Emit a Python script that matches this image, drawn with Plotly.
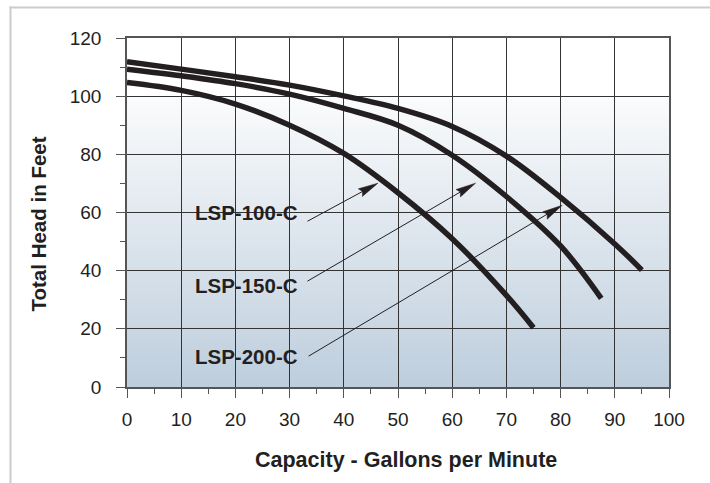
import numpy as np
import plotly.graph_objects as go

# ---- data ----
gpm_100 = [0, 10, 20, 30, 40, 50, 60, 70, 75]
head_100 = [104.7, 102.0, 97.3, 90.0, 80.3, 66.8, 51.0, 31.5, 20.4]

gpm_150 = [0, 10, 20, 30, 40, 50, 60, 70, 80, 87.5]
head_150 = [109.3, 107.0, 104.3, 100.7, 95.8, 90.0, 79.7, 65.5, 48.5, 30.5]

gpm_200 = [0, 10, 20, 30, 40, 50, 60, 70, 80, 90, 95]
head_200 = [111.8, 109.3, 106.7, 103.8, 100.1, 95.8, 89.6, 79.4, 65.2, 49.2, 40.2]

labels = ["LSP-100-C", "LSP-150-C", "LSP-200-C"]
label_x = [12.2, 12.2, 12.2]
label_y = [60.1, 35.0, 10.6]
arrow_start_x = [33.3, 33.3, 33.5]
arrow_start_y = [57.0, 36.4, 10.6]
arrow_tip_x = [46.3, 64.3, 80.3]
arrow_tip_y = [70.1, 70.1, 62.5]

x_ticks = list(range(0, 101, 10))
y_ticks = list(range(0, 121, 20))

# ---- layout geometry ----
W, H = 710, 483
ML, MR, MT, MB = 127, 41, 38, 96
PW, PH = W - ML - MR, H - MT - MB
XR, YR = (0, 100), (0, 120)
SX = PW / (XR[1] - XR[0])
SY = PH / (YR[1] - YR[0])

INK = "#231f20"
FRAME = "#cccccc"
FONT = "Liberation Sans, Arial, Helvetica, sans-serif"

fig = go.Figure()

# gradient background (below gridlines)
shapes = []
c_bot = np.array([190, 206, 221])
c_top = np.array([250, 251, 252])
nsteps = 100
for i in range(nsteps):
    y0 = 100 * i / nsteps
    f = i / (nsteps - 1)
    c = (c_bot + (c_top - c_bot) * f).round().astype(int)
    shapes.append(dict(type="rect", xref="x", yref="y", x0=0, x1=100, y0=y0, y1=100,
                       fillcolor=f"rgb({c[0]},{c[1]},{c[2]})", line=dict(width=0),
                       layer="below"))

# outer frame: a filled L-shaped band (top and left edges) in paper coords
fx0 = (9.5 - ML) / PW
fx1 = (11.5 - ML) / PW
fy0 = (MT + PH - 6.5) / PH
fy1 = (MT + PH - 8.5) / PH
fxr = (W - ML) / PW
fyb = -MB / PH
shapes.append(dict(type="rect", xref="paper", yref="paper", x0=fx0, x1=fxr, y0=fy1, y1=fy0,
                   fillcolor=FRAME, line=dict(width=0), layer="above"))
shapes.append(dict(type="rect", xref="paper", yref="paper", x0=fx0, x1=fx1, y0=fyb, y1=fy0,
                   fillcolor=FRAME, line=dict(width=0), layer="above"))

# curves
for xs, ys, name in [(gpm_100, head_100, labels[0]), (gpm_150, head_150, labels[1]),
                     (gpm_200, head_200, labels[2])]:
    fig.add_trace(go.Scatter(x=xs, y=ys, mode="lines", name=name,
                             line=dict(color=INK, width=5.5, shape="spline", smoothing=1.0),
                             showlegend=False, hoverinfo="x+y+name"))

# arrows with narrow filled heads
HL, HW = 20.0, 4.3
for x0, y0, tx, ty in zip(arrow_start_x, arrow_start_y, arrow_tip_x, arrow_tip_y):
    dxp, dyp = (tx - x0) * SX, (ty - y0) * SY
    L = (dxp ** 2 + dyp ** 2) ** 0.5
    ux, uy = dxp / L, dyp / L
    nx, ny = -uy, ux
    bx, by = tx * SX - ux * HL, ty * SY - uy * HL
    line_end = ((bx + ux * 3) / SX, (by + uy * 3) / SY)
    fig.add_trace(go.Scatter(x=[x0, line_end[0]], y=[y0, line_end[1]], mode="lines",
                             line=dict(color=INK, width=1), showlegend=False, hoverinfo="skip"))
    px = [tx, (bx + nx * HW) / SX, (bx + ux * 2.5) / SX, (bx - nx * HW) / SX, tx]
    py = [ty, (by + ny * HW) / SY, (by + uy * 2.5) / SY, (by - ny * HW) / SY, ty]
    fig.add_trace(go.Scatter(x=px, y=py, mode="lines", fill="toself", fillcolor=INK,
                             line=dict(color=INK, width=0.5), showlegend=False, hoverinfo="skip"))

annotations = []
for t, lx, ly in zip(labels, label_x, label_y):
    annotations.append(dict(x=lx, y=ly, xref="x", yref="y", text=t, showarrow=False,
                            xanchor="left", yanchor="middle",
                            font=dict(family=FONT, size=20.5, color=INK, weight="bold")))

annotations.append(dict(x=(405.5 - ML) / PW, y=(MT + PH - 460) / PH, xref="paper", yref="paper",
                        text="Capacity - Gallons per Minute", showarrow=False,
                        xanchor="center", yanchor="middle",
                        font=dict(family=FONT, size=21.5, color=INK, weight="bold")))
annotations.append(dict(x=(38 - ML) / PW, y=(MT + PH - 224.5) / PH, xref="paper", yref="paper",
                        text="Total Head in Feet", showarrow=False, textangle=-90,
                        xanchor="center", yanchor="middle",
                        font=dict(family=FONT, size=20.5, color=INK, weight="bold")))

axis_common = dict(showgrid=True, gridcolor="#333333", gridwidth=1,
                   showline=True, linecolor="#555555", linewidth=1.5, mirror=True,
                   ticks="outside", ticklen=9, tickwidth=1.2, tickcolor="#555555",
                   tickfont=dict(family=FONT, size=19, color=INK), zeroline=False,
                   fixedrange=True)

fig.update_layout(
    width=W, height=H,
    margin=dict(l=ML, r=MR, t=MT, b=MB, pad=0),
    paper_bgcolor="white", plot_bgcolor="white",
    shapes=shapes, annotations=annotations,
    xaxis=dict(range=list(XR), tickvals=x_ticks, ticklabelstandoff=5,
               minor=dict(dtick=5, ticks="outside", ticklen=5, tickcolor="#555555", showgrid=False),
               **axis_common),
    yaxis=dict(range=list(YR), tickvals=y_ticks, ticklabelstandoff=11,
               minor=dict(dtick=10, ticks="outside", ticklen=5, tickcolor="#555555", showgrid=False),
               **axis_common),
)

post = "document.body.style.margin='0';document.body.style.overflow='hidden';"
fig.write_html("out.html", config={"displayModeBar": False}, post_script=post)
